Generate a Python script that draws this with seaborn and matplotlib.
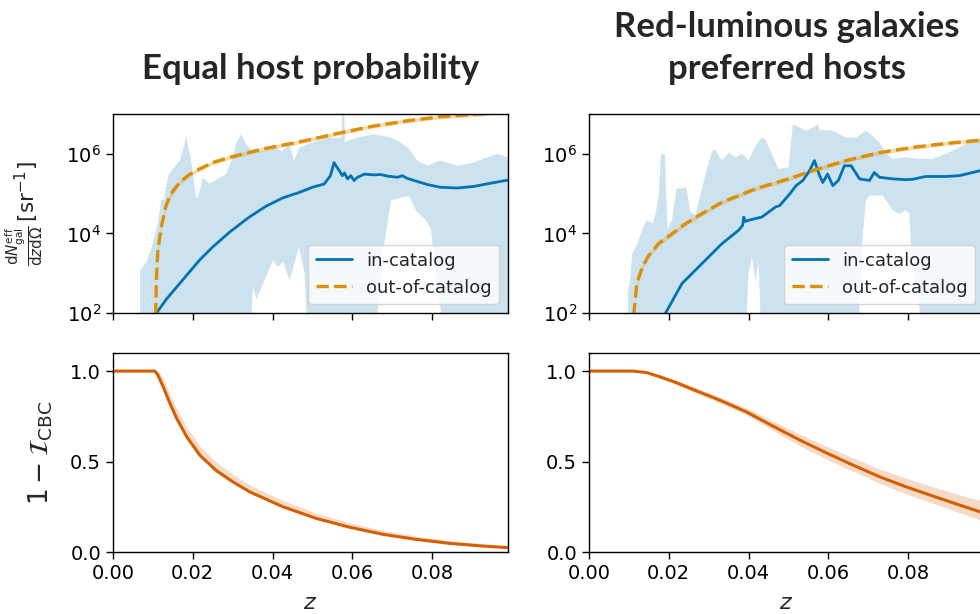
import numpy as np
import matplotlib
matplotlib.use("Agg")
import matplotlib.pyplot as plt
import seaborn as sns

# ---------------- data ----------------
titles = ["Equal host probability", "Red-luminous galaxies\npreferred hosts"]
legend_labels = ["in-catalog", "out-of-catalog"]
x_ticks = [0.00, 0.02, 0.04, 0.06, 0.08]

# Panel A: equal host probability  (values are log10 of dN/dzdΩ)
eq_in_z = [0.0105, 0.0109, 0.0134, 0.0167, 0.0217, 0.0250, 0.0292, 0.0340, 0.0383, 0.0425,
           0.0467, 0.0500, 0.0529, 0.0545, 0.0554, 0.0560, 0.0567, 0.0575, 0.0580, 0.0588,
           0.0596, 0.0604, 0.0613, 0.0630, 0.0654, 0.0671, 0.0688, 0.0713, 0.0725, 0.0738,
           0.0758, 0.0787, 0.0820, 0.0863, 0.0904, 0.0946, 0.0990]
eq_in_log = [1.90, 2.00, 2.35, 2.74, 3.33, 3.66, 4.03, 4.40, 4.68, 4.89,
             5.03, 5.16, 5.24, 5.45, 5.78, 5.68, 5.58, 5.45, 5.52, 5.37,
             5.45, 5.33, 5.41, 5.49, 5.47, 5.48, 5.44, 5.41, 5.45, 5.38,
             5.32, 5.23, 5.16, 5.14, 5.18, 5.26, 5.34]

eq_out_z = [0.0104, 0.0107, 0.0109, 0.01125, 0.0121, 0.0133, 0.0142, 0.0150, 0.0167, 0.0190,
            0.0217, 0.0250, 0.0292, 0.0375, 0.0458, 0.0500, 0.0571, 0.0654, 0.0738, 0.0820,
            0.0920, 0.0990]
eq_out_log = [1.50, 2.00, 2.90, 3.58, 4.16, 4.70, 4.92, 5.06, 5.28, 5.47,
              5.62, 5.78, 5.91, 6.12, 6.28, 6.37, 6.53, 6.70, 6.83, 6.93,
              7.00, 7.08]
eq_out_err = [0.10, 0.10, 0.10, 0.09, 0.08, 0.07, 0.07, 0.06, 0.05, 0.05,
              0.05, 0.05, 0.05, 0.05, 0.05, 0.05, 0.05, 0.05, 0.05, 0.05,
              0.05, 0.05]

eq_up_z = [0.0068, 0.0068, 0.0085, 0.0100, 0.0113, 0.0121, 0.0129, 0.0133, 0.0140, 0.0167,
           0.0178, 0.0183, 0.0188, 0.0196, 0.0208, 0.0213, 0.0225, 0.0242, 0.0267, 0.0283,
           0.0300, 0.0308, 0.0321, 0.0333, 0.0350, 0.0375, 0.0400, 0.0425, 0.0442, 0.0454,
           0.0467, 0.0488, 0.0538, 0.0573, 0.0575, 0.0579, 0.0581, 0.0588, 0.0613, 0.0654,
           0.0696, 0.0713, 0.0738, 0.0763, 0.0788, 0.0820, 0.0863, 0.0904, 0.0938, 0.0963,
           0.0990]
eq_up_log = [1.00, 3.07, 3.30, 3.74, 4.30, 4.83, 4.85, 5.20, 5.49, 5.83,
             6.20, 6.45, 6.20, 5.83, 4.90, 4.90, 5.40, 5.25, 5.40, 5.49,
             5.90, 6.24, 6.49, 6.24, 6.07, 6.07, 6.16, 6.07, 6.24, 5.83,
             6.16, 6.24, 6.40, 6.40, 7.50, 7.50, 6.30, 6.33, 6.41, 6.49,
             6.41, 6.33, 6.16, 5.83, 5.70, 5.83, 5.70, 5.78, 5.91, 6.00,
             5.91]
eq_lo_z = [0.0068, 0.0342, 0.0351, 0.0359, 0.0401, 0.0413, 0.0426, 0.0443, 0.0466, 0.0480,
           0.0490, 0.0655, 0.0676, 0.0697, 0.0726, 0.0743, 0.0759, 0.0784, 0.0797, 0.0803,
           0.0835, 0.0990]
eq_lo_log = [1.00, 1.00, 2.70, 2.33, 3.33, 3.16, 3.28, 2.83, 3.66, 3.00,
             1.00, 1.00, 3.49, 4.83, 4.91, 4.93, 4.58, 4.33, 4.12, 3.50,
             1.00, 1.00]

eq_z = [0.0, 0.0105, 0.0113, 0.0126, 0.0143, 0.0160, 0.0185, 0.0218, 0.0259, 0.0301,
        0.0343, 0.0426, 0.0509, 0.0593, 0.0676, 0.0759, 0.0843, 0.0926, 0.0990]
eq_val = [1.0, 1.0, 0.976, 0.912, 0.82, 0.737, 0.636, 0.534, 0.45, 0.387,
          0.332, 0.25, 0.186, 0.137, 0.098, 0.070, 0.048, 0.033, 0.024]
eq_val_hi = [1.0, 1.0, 1.0, 0.96, 0.87, 0.79, 0.69, 0.585, 0.495, 0.43,
             0.37, 0.285, 0.215, 0.162, 0.12, 0.088, 0.063, 0.045, 0.036]
eq_val_lo = [1.0, 1.0, 0.97, 0.905, 0.81, 0.727, 0.626, 0.525, 0.441, 0.379,
             0.325, 0.244, 0.181, 0.133, 0.095, 0.067, 0.046, 0.031, 0.022]

# Panel B: red-luminous galaxies preferred hosts
rl_in_z = [0.0185, 0.0192, 0.0233, 0.0292, 0.0333, 0.0375, 0.0385, 0.0388, 0.0392, 0.0400,
           0.0433, 0.0467, 0.0478, 0.0503, 0.0519, 0.0536, 0.0553, 0.0565, 0.0578, 0.0586,
           0.0598, 0.0611, 0.0625, 0.0640, 0.0657, 0.0678, 0.0703, 0.0715, 0.0728, 0.0761,
           0.0794, 0.0811, 0.0844, 0.0894, 0.0928, 0.0961, 0.0990]
rl_in_log = [1.80, 2.00, 2.74, 3.33, 3.74, 4.08, 4.20, 4.41, 4.30, 4.33,
             4.41, 4.66, 4.70, 4.99, 5.20, 5.33, 5.58, 5.83, 5.45, 5.28,
             5.49, 5.20, 5.33, 5.70, 5.70, 5.37, 5.33, 5.53, 5.41, 5.37,
             5.35, 5.36, 5.43, 5.43, 5.45, 5.53, 5.60]

rl_out_z = [0.0110, 0.01125, 0.0119, 0.0125, 0.0135, 0.0150, 0.0175, 0.0208, 0.0240, 0.0275,
            0.0333, 0.0417, 0.0500, 0.0561, 0.0644, 0.0728, 0.0811, 0.0894, 0.0978, 0.0990]
rl_out_log = [1.50, 2.00, 2.66, 2.90, 3.18, 3.45, 3.75, 3.99, 4.23, 4.45,
              4.78, 5.12, 5.37, 5.58, 5.83, 6.03, 6.16, 6.26, 6.34, 6.35]
rl_out_err = [0.08, 0.08, 0.08, 0.07, 0.07, 0.06, 0.06, 0.06, 0.05, 0.05,
              0.05, 0.05, 0.05, 0.05, 0.05, 0.05, 0.05, 0.05, 0.05, 0.05]

rl_up_z = [0.0096, 0.0098, 0.0104, 0.0108, 0.0121, 0.0136, 0.0144, 0.0160, 0.0167, 0.0175,
           0.0180, 0.0190, 0.0197, 0.0208, 0.0219, 0.0244, 0.0254, 0.0267, 0.0290, 0.0308,
           0.0317, 0.0333, 0.0350, 0.0367, 0.0383, 0.0400, 0.0417, 0.0433, 0.0442, 0.0458,
           0.0475, 0.0500, 0.0511, 0.0544, 0.0570, 0.0573, 0.0578, 0.0610, 0.0644, 0.0669,
           0.0694, 0.0711, 0.0728, 0.0744, 0.0761, 0.0794, 0.0828, 0.0861, 0.0894, 0.0928,
           0.0961, 0.0990]
rl_up_log = [1.00, 2.50, 2.90, 3.49, 3.74, 4.16, 4.33, 4.25, 4.49, 4.99,
             5.99, 5.99, 4.10, 4.33, 5.12, 5.16, 4.55, 4.45, 5.40, 6.07,
             6.10, 5.83, 6.03, 5.91, 6.00, 5.83, 6.20, 6.41, 6.37, 6.00,
             5.62, 5.66, 6.74, 6.58, 6.70, 6.78, 6.60, 6.58, 6.41, 6.41,
             6.58, 6.45, 6.28, 6.03, 5.87, 5.91, 5.87, 5.87, 6.00, 6.16,
             6.33, 6.41]
rl_lo_z = [0.0096, 0.0390, 0.0400, 0.0408, 0.0417, 0.0425, 0.0433, 0.0673, 0.0686, 0.0694,
           0.0703, 0.0736, 0.0748, 0.0761, 0.0778, 0.0794, 0.0803, 0.0807, 0.0844, 0.0990]
rl_lo_log = [1.00, 1.00, 3.00, 3.41, 2.80, 3.30, 1.00, 1.00, 3.91, 4.83,
             4.95, 4.95, 4.78, 4.58, 4.49, 4.58, 4.50, 3.66, 1.00, 1.00]

rl_z = [0.0, 0.0111, 0.0144, 0.0177, 0.0219, 0.0269, 0.0327, 0.0394, 0.0461, 0.0528,
        0.0594, 0.0661, 0.0728, 0.0794, 0.0861, 0.0928, 0.0990]
rl_val = [1.0, 1.0, 0.992, 0.969, 0.936, 0.891, 0.84, 0.775, 0.696, 0.619,
          0.549, 0.481, 0.416, 0.361, 0.31, 0.26, 0.215]
rl_val_hi = [1.0, 1.0, 0.997, 0.978, 0.948, 0.907, 0.858, 0.797, 0.724, 0.652,
             0.585, 0.521, 0.459, 0.408, 0.361, 0.316, 0.28]
rl_val_lo = [1.0, 1.0, 0.988, 0.962, 0.926, 0.878, 0.825, 0.758, 0.672, 0.587,
             0.515, 0.447, 0.38, 0.322, 0.27, 0.218, 0.17]

# ---------------- styling ----------------
sns.set_theme(style="ticks")
plt.rcParams['font.family'] = ['DejaVu Sans']
plt.rcParams['mathtext.fontset'] = 'dejavusans'
pal = sns.color_palette("colorblind")
c_in, c_out, c_red = pal[0], pal[1], pal[3]

fig = plt.figure(figsize=(9.8, 6.14), dpi=100)
W, H = 980, 614
def rect(x0, y0, x1, y1):
    return [x0 / W, 1 - y1 / H, (x1 - x0) / W, (y1 - y0) / H]

ax_tl = fig.add_axes(rect(113, 114, 508, 313))
ax_bl = fig.add_axes(rect(113, 353, 508, 552))
ax_tr = fig.add_axes(rect(589, 114, 984, 313))
ax_br = fig.add_axes(rect(589, 353, 984, 552))

p10 = lambda a: np.power(10.0, np.asarray(a))

panels = [
    (ax_tl, ax_bl, titles[0], eq_in_z, eq_in_log, eq_out_z, eq_out_log, eq_out_err,
     eq_up_z, eq_up_log, eq_lo_z, eq_lo_log, eq_z, eq_val, eq_val_hi, eq_val_lo),
    (ax_tr, ax_br, titles[1], rl_in_z, rl_in_log, rl_out_z, rl_out_log, rl_out_err,
     rl_up_z, rl_up_log, rl_lo_z, rl_lo_log, rl_z, rl_val, rl_val_hi, rl_val_lo),
]

for (at, ab, title, in_z, in_log, out_z, out_log, out_err,
     up_z, up_log, lo_z, lo_log, bz, bval, bhi, blo) in panels:
    at.set_yscale('log')
    poly_x = np.concatenate([up_z, lo_z[::-1]])
    poly_y = p10(np.concatenate([up_log, lo_log[::-1]]))
    at.fill(poly_x, poly_y, color=c_in, alpha=0.2, lw=0)
    at.fill_between(out_z, p10(np.array(out_log) - np.array(out_err)),
                    p10(np.array(out_log) + np.array(out_err)),
                    color=c_out, alpha=0.3, lw=0)
    sns.lineplot(x=in_z, y=p10(in_log), ax=at, color=c_in, lw=2.0,
                 label=legend_labels[0], sort=False, estimator=None)
    sns.lineplot(x=out_z, y=p10(out_log), ax=at, color=c_out, lw=2.4,
                 linestyle='--', label=legend_labels[1], sort=False, estimator=None)
    at.set_ylim(1e2, 1e7)
    at.set_xlim(0, 0.099)
    at.set_yticks([1e2, 1e4, 1e6])
    at.yaxis.set_minor_locator(matplotlib.ticker.NullLocator())
    at.set_xticks(x_ticks)
    at.set_xticklabels([])
    at.set_xlabel('')
    at.set_ylabel('')
    at.legend(loc='lower right', fontsize=13, framealpha=0.8, handlelength=2.0,
              borderaxespad=0.5)
    at.set_title(title, fontsize=25, fontweight='bold', family=['Lato', 'DejaVu Sans'],
                 pad=25, linespacing=1.4)

    ab.fill_between(bz, blo, bhi, color=c_red, alpha=0.22, lw=0)
    sns.lineplot(x=bz, y=bval, ax=ab, color=c_red, lw=2.2, sort=False, estimator=None)
    ab.set_xlim(0, 0.099)
    ab.set_ylim(0, 1.1)
    ab.set_yticks([0.0, 0.5, 1.0])
    ab.set_xticks(x_ticks)
    ab.set_xticklabels([f"{t:.2f}" for t in x_ticks])
    ab.set_xlabel(r'$z$', fontsize=16, labelpad=7)
    ab.set_ylabel('')

    for a in (at, ab):
        a.tick_params(labelsize=14, length=5, width=1, direction='out', colors='black')
        for s in a.spines.values():
            s.set_visible(True)
            s.set_color('black')
            s.set_linewidth(1.0)

ax_tl.set_ylabel(r'$\frac{\mathrm{d}N_{\mathrm{gal}}^{\mathrm{eff}}}{\mathrm{d}z\mathrm{d}\Omega}\,[\mathrm{sr}^{-1}]$',
                 fontsize=15.5)
ax_tl.yaxis.set_label_coords(-0.17, 0.5)
ax_bl.set_ylabel(r'$1-\mathcal{I}_{\mathrm{CBC}}$', fontsize=19)
ax_bl.yaxis.set_label_coords(-0.147, 0.5)

fig.savefig('out.png', dpi=100)
